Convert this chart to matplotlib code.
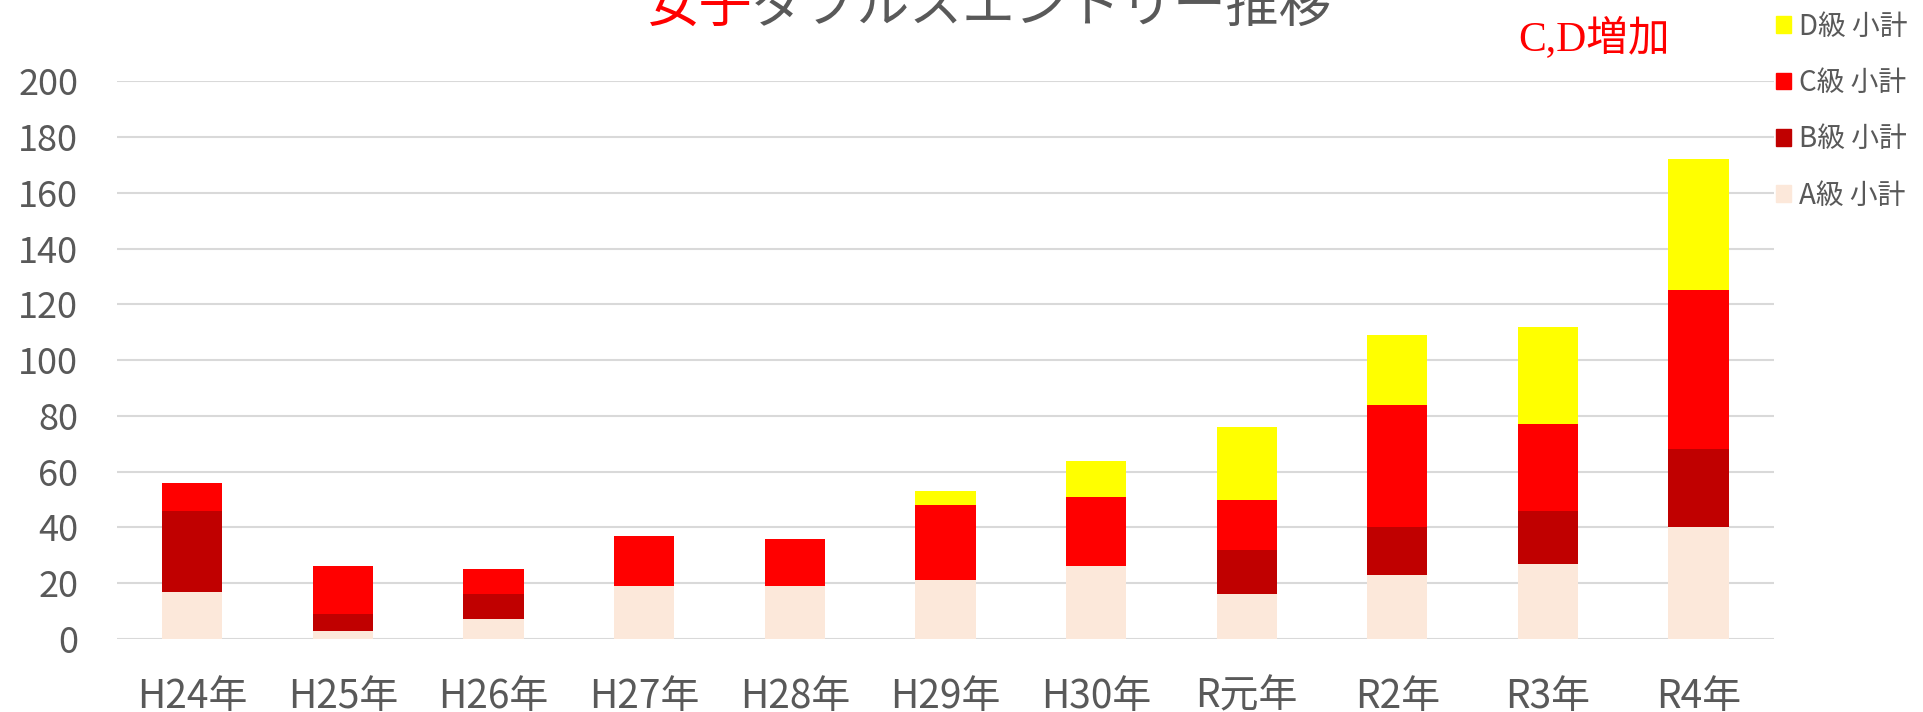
import matplotlib
matplotlib.use('Agg')
import numpy as np
from matplotlib import pyplot as plt
from matplotlib.patches import Patch

plt.rcParams['font.family'] = ['Noto Sans CJK JP', 'DejaVu Sans']

years = ['H24年', 'H25年', 'H26年', 'H27年', 'H28年', 'H29年',
         'H30年', 'R元年', 'R2年', 'R3年', 'R4年']
a_sub = [17, 3, 7, 19, 19, 21, 26, 16, 23, 27, 40]
b_sub = [29, 6, 9, 0, 0, 0, 0, 16, 17, 19, 28]
c_sub = [10, 17, 9, 18, 17, 27, 25, 18, 44, 31, 57]
d_sub = [0, 0, 0, 0, 0, 5, 13, 26, 25, 35, 47]

series = [('A級 小計', a_sub, '#FCE8DA'),
          ('B級 小計', b_sub, '#C00000'),
          ('C級 小計', c_sub, '#FF0000'),
          ('D級 小計', d_sub, '#FFFF00')]

grey = '#595959'

fig = plt.figure(figsize=(19.24, 7.12), dpi=100)
ax = fig.add_axes([0.0608, 0.1025, 0.8612, 0.7835])

x = np.arange(len(years))
bottom = np.zeros(len(years))
handles = []
for name, vals, col in series:
    vals = np.array(vals)
    ax.bar(x, vals, width=0.4, bottom=bottom, color=col, zorder=3)
    bottom += vals
    handles.append(Patch(color=col, label=name))

ax.set_xlim(-0.5, len(years) - 0.5)
ax.set_ylim(0, 200)
ax.set_yticks(np.arange(0, 201, 20))
ax.yaxis.grid(True, color='#D9D9D9', linewidth=1.5, zorder=0)
ax.set_axisbelow(True)
for s in ax.spines.values():
    s.set_visible(False)
ax.tick_params(axis='both', length=0, colors=grey)
ax.tick_params(axis='y', labelsize=26, pad=28)
ax.tick_params(axis='x', labelsize=28, pad=27)
ax.set_xticks(x)
ax.set_xticklabels(years)

leg = fig.legend(handles=handles[::-1], loc='upper left',
                 bbox_to_anchor=(0.910, 1.019), frameon=False,
                 fontsize=20, handlelength=0.55, handleheight=0.55,
                 handletextpad=0.3, labelspacing=0.95)
for t in leg.get_texts():
    t.set_color(grey)

# title, half cut at the top edge
t1 = fig.text(646 / 1924, 0.9916, '女子', color='red', fontsize=38, va='center')
fig.canvas.draw()
bb = t1.get_window_extent()
fig.text(bb.x1 / fig.bbox.width, 0.9916, 'ダブルスエントリー推移', color=grey,
         fontsize=38, va='center')

fig.text(1518 / 1924, 1 - 39 / 712, 'C,D増加', color='red', fontsize=30,
         va='center', family=['Liberation Serif', 'Noto Sans CJK JP'])

fig.savefig('out.png', dpi=100)
